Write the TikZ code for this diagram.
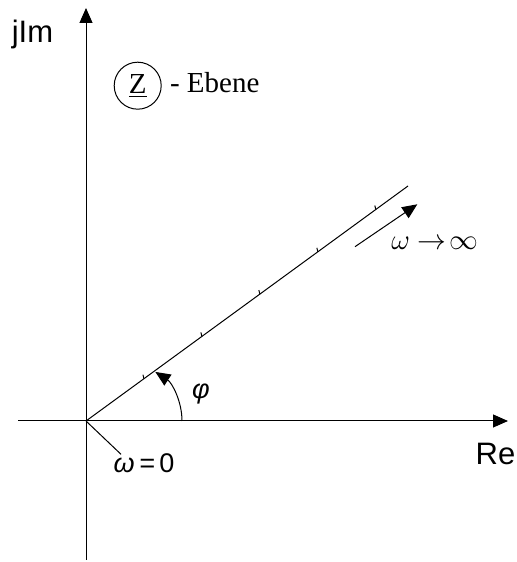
\documentclass[tikz,border=0pt]{standalone}
\usepackage{fontspec}
\setmainfont{Liberation Serif}
\setsansfont{Liberation Sans}
\usetikzlibrary{arrows.meta,calc}

\begin{document}
\begin{tikzpicture}[
    x=0.5pt, y=0.5pt,
    line width=0.5pt,
    tip/.style={-{Triangle[length=7.5pt,width=6.5pt]}},
    axislabel/.style={font=\fontsize{15.5}{18}\selectfont\sffamily, inner sep=0pt},
    sanslabel/.style={font=\fontsize{13.5}{16}\selectfont\sffamily, inner sep=0pt},
    seriflabel/.style={font=\fontsize{14.5}{17}\selectfont, inner sep=0pt}
]
\useasboundingbox (0,0) rectangle (516,562);

% axes
\coordinate (O) at (86,141);
\coordinate (xl) at (18,141);
\coordinate (xr) at (508,141);
\coordinate (yb) at (86,2);
\coordinate (yt) at (86,554);
\draw[tip] (xl) -- (xr);
\draw[tip] (yb) -- (yt);
\node[axislabel, anchor=base] (re) at (495.5,97) {Re};
\node[axislabel, anchor=base] (im) at (32.5,519) {jIm};

% plane label
\node[seriflabel, draw, circle, minimum size=23.5pt] (z) at (137.7,476.3) {\underline{Z}};
\node[seriflabel, anchor=base west] (ebene) at (169.5,469) {-~Ebene};

% locus with ticks
\coordinate (end) at (408,376);
\draw (O) -- (end);
\foreach \f in {0.18,0.36,0.54,0.72,0.9}
    \draw ($(O)!\f!(end)$) -- ++(-1,4);

% direction of omega
\coordinate (d1) at (355,315.3);
\coordinate (d2) at (417.3,357.7);
\draw[tip] (d1) -- (d2);
\node[seriflabel, font=\fontsize{13.5}{16}\selectfont] (winf) at (435,318.5) {$\omega\to\!\infty$};

% angle
\coordinate (a1) at (182,141);
\draw[tip] (a1) arc[start angle=0, end angle=57, radius=58.5];
\node[sanslabel] (phi) at (201,168) {\itshape φ};

% start point
\coordinate (w0end) at (121,107.7);
\draw (O) -- (w0end);
\node[sanslabel, anchor=base] (w0) at (144,89) {\itshape ω\,=\,\upshape 0};
\end{tikzpicture}
\end{document}
